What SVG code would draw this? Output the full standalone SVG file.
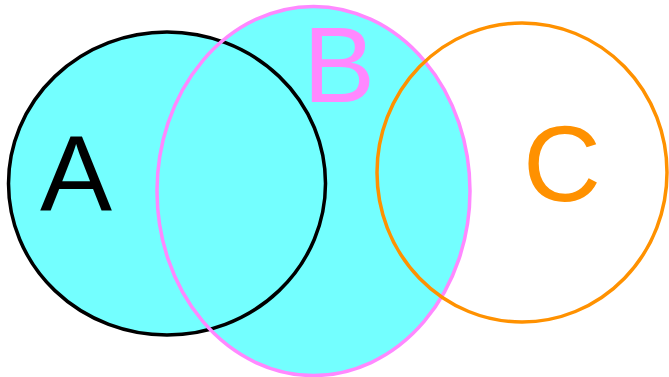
<svg xmlns="http://www.w3.org/2000/svg" width="669" height="377" viewBox="0 0 669 377">
<style>
.fill{fill:#73ffff;stroke:none}
.outline{fill:none;stroke-width:3.5}
.lbl{font-family:"Liberation Sans",Arial,sans-serif;font-size:108px;text-anchor:middle}
</style>
<rect width="669" height="377" fill="#ffffff"/>
<g id="fills">
<ellipse class="fill" cx="167" cy="183.5" rx="158.5" ry="151.5"/>
<ellipse class="fill" cx="313.5" cy="191" rx="156.5" ry="184.5"/>
</g>
<g id="connectors"></g>
<g id="A">
<ellipse class="outline" cx="167" cy="183.5" rx="158.5" ry="151.5" stroke="#000000"/>
<text class="lbl" x="76" y="211" fill="#000000">A</text>
</g>
<g id="B">
<ellipse class="outline" cx="313.5" cy="191" rx="156.5" ry="184.5" stroke="#ff88ff"/>
<text class="lbl" x="339" y="102" fill="#ff88ff">B</text>
</g>
<g id="C">
<ellipse class="outline" cx="522" cy="172.5" rx="145" ry="149.5" stroke="#ff9100"/>
<text class="lbl" x="562" y="201" fill="#ff9100">C</text>
</g>
</svg>
